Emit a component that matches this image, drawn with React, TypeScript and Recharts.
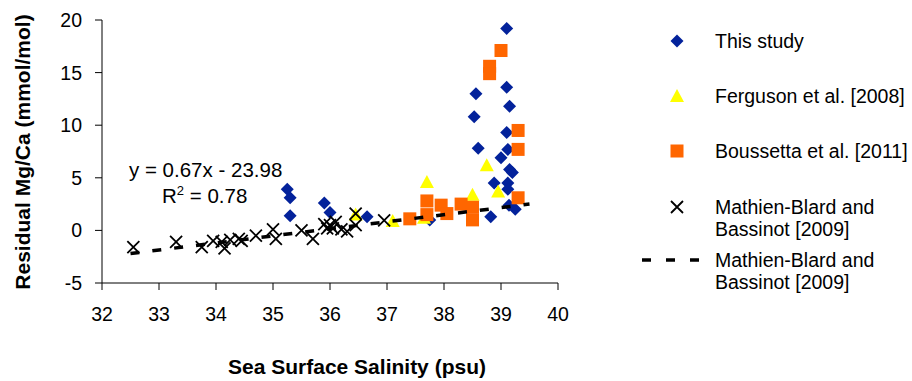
import React from "react";
import { ScatterChart, Scatter, XAxis, YAxis } from "recharts";

// salinity (psu) vs residual Mg/Ca (mmol/mol)
const thisStudy = [
  [35.25, 3.9], [35.3, 3.1], [35.3, 1.4], [35.9, 2.6], [36.0, 1.7], [36.65, 1.3],
  [37.75, 1.0], [38.53, 10.8], [38.56, 13.0], [38.6, 7.8], [38.82, 1.3], [38.88, 4.5],
  [39.0, 6.9], [39.1, 19.2], [39.1, 13.6], [39.15, 11.8], [39.1, 9.3], [39.12, 7.7],
  [39.15, 5.8], [39.2, 5.5], [39.12, 4.5], [39.12, 3.9], [39.14, 2.4], [39.25, 2.0],
];
const ferguson = [
  [36.45, 1.5], [37.1, 0.9], [37.65, 1.2], [37.7, 4.6], [38.5, 3.4], [38.75, 6.2], [38.95, 3.7],
];
const boussetta = [
  [37.4, 1.1], [37.7, 2.8], [37.7, 1.5], [37.95, 2.4], [38.05, 1.6], [38.3, 2.5],
  [38.5, 2.2], [38.5, 1.0], [38.8, 15.6], [38.8, 14.9], [39.0, 17.1], [39.3, 9.5],
  [39.3, 7.7], [39.3, 3.1],
];
const mathienBlard = [
  [32.55, -1.6], [33.3, -1.1], [33.75, -1.6], [33.95, -1.0], [34.1, -1.1], [34.15, -1.7],
  [34.25, -0.9], [34.4, -0.8], [34.45, -1.0], [34.7, -0.5], [35.0, 0.1], [35.05, -0.8],
  [35.5, 0.0], [35.7, -0.8], [35.9, 0.6], [35.95, 0.2], [36.0, 0.5], [36.05, 0.2],
  [36.1, 0.8], [36.2, 0.1], [36.3, -0.1], [36.45, 0.5], [36.45, 1.6], [36.95, 0.95],
];
const trendLine = [[32.5, -2.2], [39.5, 2.5]];

const xTicks = [32, 33, 34, 35, 36, 37, 38, 39, 40];
const yTicks = [-5, 0, 5, 10, 15, 20];

const toPoints = (arr: number[][]) => arr.map(([x, y]) => ({ x, y }));

const FONT = "'Liberation Sans', Arial, sans-serif";
const BLUE = "#03229B";
const YELLOW = "#FFFF00";
const ORANGE = "#FF6600";

const Diamond = ({ cx, cy }: any) => (
  <path d={`M${cx},${cy - 6.5}L${cx + 6.5},${cy}L${cx},${cy + 6.5}L${cx - 6.5},${cy}Z`} fill={BLUE} />
);
const Triangle = ({ cx, cy }: any) => (
  <path d={`M${cx},${cy - 7}L${cx + 7},${cy + 6}L${cx - 7},${cy + 6}Z`} fill={YELLOW} />
);
const Square = ({ cx, cy }: any) => (
  <rect x={cx - 6.5} y={cy - 6.5} width={13} height={13} fill={ORANGE} />
);
const Cross = ({ cx, cy }: any) => (
  <path d={`M${cx - 6},${cy - 6}L${cx + 6},${cy + 6}M${cx - 6},${cy + 6}L${cx + 6},${cy - 6}`} stroke="#000" strokeWidth={1.8} fill="none" />
);

const legendItems = [
  { label: ["This study"], top: 41, icon: "diamond" },
  { label: ["Ferguson et al. [2008]"], top: 96, icon: "triangle" },
  { label: ["Boussetta et al. [2011]"], top: 151, icon: "square" },
  { label: ["Mathien-Blard and", "Bassinot [2009]"], top: 207, icon: "cross" },
  { label: ["Mathien-Blard and", "Bassinot [2009]"], top: 260, icon: "dash" },
];

function LegendIcon({ kind }: { kind: string }) {
  return (
    <svg width={60} height={20} style={{ position: "absolute", left: 641, marginTop: -10 }}>
      {kind === "diamond" && <Diamond cx={36} cy={10} />}
      {kind === "triangle" && <Triangle cx={36} cy={10} />}
      {kind === "square" && <Square cx={36} cy={10} />}
      {kind === "cross" && <Cross cx={36} cy={10} />}
      {kind === "dash" && <line x1={1} y1={10} x2={59} y2={10} stroke="#000" strokeWidth={3.5} strokeDasharray="9 15" />}
    </svg>
  );
}

export default function App() {
  return (
    <div style={{ position: "absolute", left: 0, top: 0, width: 912, height: 381, fontFamily: FONT, background: "#fff" }}>
      <ScatterChart width={912} height={381} margin={{ top: 20, right: 354, left: 42, bottom: 68 }}>
        <XAxis
          type="number"
          dataKey="x"
          domain={[32, 40]}
          ticks={xTicks}
          allowDataOverflow
          height={30}
          tickSize={7}
          tickMargin={17}
          axisLine={{ stroke: "#000" }}
          tickLine={{ stroke: "#000" }}
          tick={{ fill: "#000", fontSize: 19.5, fontFamily: FONT }}
        />
        <YAxis
          type="number"
          dataKey="y"
          domain={[-5, 20]}
          ticks={yTicks}
          allowDataOverflow
          width={60}
          tickSize={7}
          tickMargin={13}
          axisLine={{ stroke: "#000" }}
          tickLine={{ stroke: "#000" }}
          tick={{ fill: "#000", fontSize: 19.5, fontFamily: FONT }}
        />
        <Scatter name="This study" data={toPoints(thisStudy)} shape={Diamond} isAnimationActive={false} />
        <Scatter name="Ferguson et al. [2008]" data={toPoints(ferguson)} shape={Triangle} isAnimationActive={false} />
        <Scatter name="Boussetta et al. [2011]" data={toPoints(boussetta)} shape={Square} isAnimationActive={false} />
        <Scatter name="Mathien-Blard and Bassinot [2009]" data={toPoints(mathienBlard)} shape={Cross} isAnimationActive={false} />
        <Scatter
          name="Mathien-Blard and Bassinot [2009] fit"
          data={toPoints(trendLine)}
          line={{ stroke: "#000", strokeWidth: 3.5, strokeDasharray: "9 13" }}
          shape={() => <g />}
          isAnimationActive={false}
        />
      </ScatterChart>

      <div style={{ position: "absolute", left: 129, top: 158, fontSize: 20.5, lineHeight: "24px", whiteSpace: "nowrap" }}>
        y = 0.67x - 23.98
      </div>
      <div style={{ position: "absolute", left: 162, top: 184, fontSize: 20.5, lineHeight: "24px", whiteSpace: "nowrap" }}>
        R<sup style={{ fontSize: 13, verticalAlign: "top", lineHeight: "14px" }}>2</sup> = 0.78
      </div>

      <div style={{ position: "absolute", left: 357, top: 367, transform: "translate(-50%, -50%)", fontSize: 21, fontWeight: "bold", whiteSpace: "nowrap" }}>
        Sea Surface Salinity (psu)
      </div>
      <div style={{ position: "absolute", left: 23, top: 152, transform: "translate(-50%, -50%) rotate(-90deg)", fontSize: 21, fontWeight: "bold", whiteSpace: "nowrap" }}>
        Residual Mg/Ca (mmol/mol)
      </div>

      {legendItems.map((item, i) => (
        <div key={i} style={{ position: "absolute", left: 0, top: item.top }}>
          <LegendIcon kind={item.icon} />
          <div style={{ position: "absolute", left: 715, top: -11, fontSize: 19.5, lineHeight: "22px", whiteSpace: "nowrap" }}>
            {item.label.map((l, j) => <div key={j}>{l}</div>)}
          </div>
        </div>
      ))}
    </div>
  );
}
